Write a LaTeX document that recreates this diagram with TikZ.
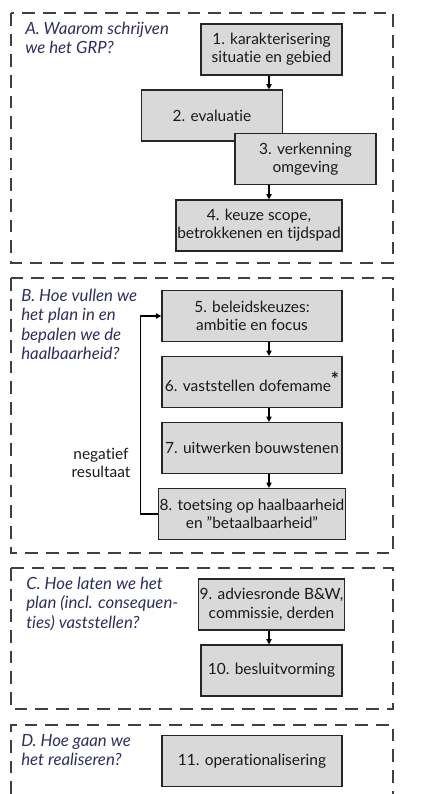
\documentclass[tikz,border=0pt]{standalone}
\usepackage{fontspec}
\setmainfont{Lato}[Ligatures={NoCommon}]
\usetikzlibrary{positioning,arrows.meta}

\definecolor{boxgray}{HTML}{D9D9D9}
\definecolor{labelblue}{HTML}{2E2F5C}

\begin{document}
\begin{tikzpicture}[
    x=0.75pt, y=-0.75pt,
    font=\fontsize{11.6}{13.8}\selectfont,
    stepbox/.style={draw=black!85, fill=boxgray, line width=1.1pt, align=center,
        minimum height=38pt, inner sep=1pt, text=black!90},
    narrow/.style={stepbox, minimum width=106pt},
    wide/.style={stepbox, minimum width=135pt},
    question/.style={anchor=north west, align=left, inner sep=0pt,
        text=labelblue, font=\fontsize{12.6}{14.4}\selectfont\itshape},
    frame/.style={draw=black!75, line width=0.9pt, dash pattern=on 9.5pt off 6pt},
    flow/.style={draw, line width=0.8pt, -{Triangle[length=4pt, width=4pt]}}
]
\useasboundingbox (0,0) rectangle (430,794);

% Phase frames
\draw[frame] (11,13) rectangle (393,263);
\draw[frame] (11,278) rectangle (393,553);
\draw[frame] (11,568) rectangle (393,709);
\draw[frame] (11,794) |- (393,725) -- (393,794);

% Questions
\node[question] (qa) at (25,22) {A. Waarom schrijven\\we het GRP?};
\node[question] (qb) at (21,289) {B. Hoe vullen we\\het plan in en\\bepalen we de\\haalbaarheid?};
\node[question] (qc) at (26,577) {C. Hoe laten we het\\plan (incl. consequen-\\ties) vaststellen?};
\node[question] (qd) at (21,734) {D. Hoe gaan we\\het realiseren?};

% Steps
\node[narrow] (s1) at (271.5,49.5) {1. karakterisering\\situatie en gebied};
\node[narrow] (s2) at (212,115.5) {2. evaluatie};
\node[narrow] (s3) at (305.5,159) {3. verkenning\\omgeving};
\node[stepbox, minimum width=124.5pt] (s4) at (259,225.5) {4. keuze scope,\\betrokkenen en tijdspad};

\node[wide] (s5) at (252,316) {5. beleidskeuzes:\\ambitie en focus};
\node[wide] (s6) at (252,382) {6. vaststellen dofemame\raisebox{4pt}{\Large\bfseries *}};
\node[wide] (s7) at (252,448) {7. uitwerken bouwstenen};
\node[wide] (s8) at (252,514) {8. toetsing op haalbaarheid\\en \symbol{"22}betaalbaarheid\symbol{"22}};

\node[narrow] (s9) at (271.5,604.5) {9. adviesronde B\&W,\\commissie, derden};
\node[narrow] (s10) at (271.5,670.5) {10. besluitvorming};

\node[wide] (s11) at (252,761) {11. operationalisering};

\node[align=center, text=black!90] (neg) at (101,463) {negatief\\resultaat};

% Flow
\coordinate (ax) at (269,0);
\draw[flow] (s1.south -| ax) -- (s2.north -| ax);
\draw[flow] (s3.south -| ax) -- (s4.north -| ax);
\foreach \u/\v in {s5/s6, s6/s7, s7/s8, s9/s10} {
    \draw[flow] (\u.south -| ax) -- (\v.north -| ax);
}
\draw[flow] (s8.west) -- ++(-17,0) |- (s5.west);

\end{tikzpicture}
\end{document}
